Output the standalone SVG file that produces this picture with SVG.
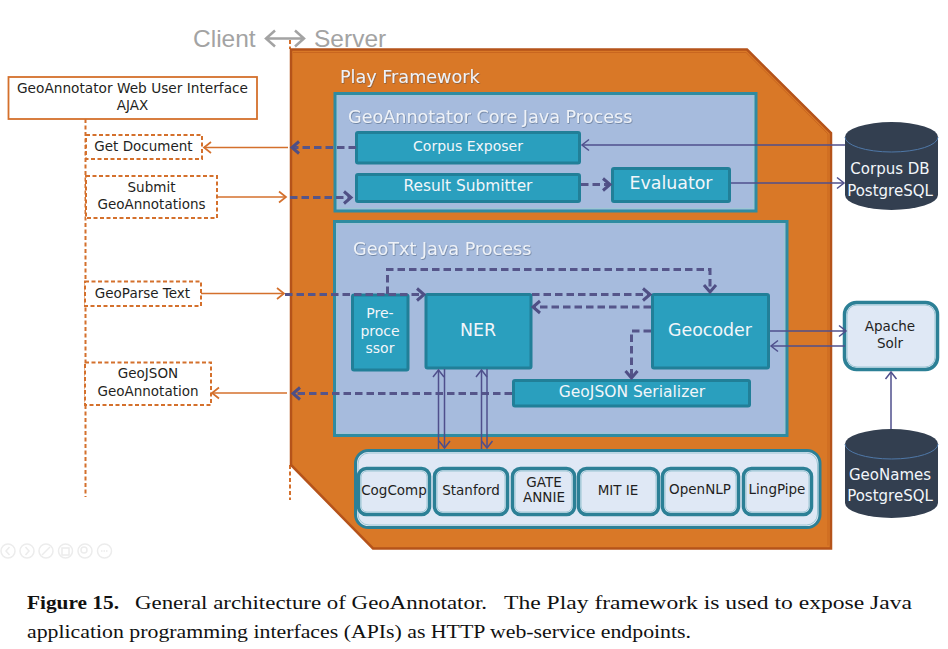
<svg xmlns="http://www.w3.org/2000/svg" width="948" height="649" viewBox="0 0 948 649">
<style>
text{font-family:"DejaVu Sans","Liberation Sans",sans-serif;text-anchor:middle}
.dk{fill:#1f1f22;font-size:13.5px}
.wh{fill:#f2f6fa}
.ttl{fill:#eef2f8;font-size:17.600px;text-anchor:start;filter:url(#sh)}
.panel{fill:#a6bbdd;stroke:#2f8ba0;stroke-width:3}
.teal{fill:#2a9fbe;stroke:#217f98;stroke-width:3}
.dash{fill:#fff;stroke:#d4702c;stroke-width:2;stroke-dasharray:4 2.5}
.lib{fill:#dfe8f5;stroke:#2c8096;stroke-width:3.500}
.in{fill:none;stroke:#9cc6d4;stroke-width:1}
.db{fill:#333f50}
.or{fill:none;stroke:#d4702c;stroke-width:1.700;marker-end:url(#mo)}
.pt{fill:none;stroke:#4f4f8c;stroke-width:1.500;marker-end:url(#mt)}
.pd{fill:none;stroke:#55558a;stroke-width:3;stroke-dasharray:7.500 4;marker-end:url(#md)}
.life{fill:none;stroke:#d4702c;stroke-width:2;stroke-dasharray:4 2.5}
.cap{font-family:"Liberation Serif",serif;font-size:19.5px;fill:#111;text-anchor:start}
.tb{fill:none;stroke:#ececec;stroke-width:1.5}
</style>
<defs>
<filter id="sh" x="-5%" y="-20%" width="110%" height="140%"><feDropShadow dx="0.6" dy="0.8" stdDeviation="0.5" flood-color="#33445f" flood-opacity="0.55"/></filter>
<marker id="mo" markerUnits="userSpaceOnUse" markerWidth="12" markerHeight="14" refX="9" refY="7" orient="auto"><path d="M2 1.5L9 7L2 12.5" fill="none" stroke="#d4702c" stroke-width="1.7"/></marker>
<marker id="mt" markerUnits="userSpaceOnUse" markerWidth="12" markerHeight="14" refX="9" refY="7" orient="auto"><path d="M2 1.5L9 7L2 12.5" fill="none" stroke="#4f4f8c" stroke-width="1.5"/></marker>
<marker id="md" markerUnits="userSpaceOnUse" markerWidth="12" markerHeight="16" refX="9" refY="8" orient="auto"><path d="M2 2L9 8L2 14" fill="none" stroke="#4f4f85" stroke-width="3"/></marker>
</defs>
<rect width="948" height="649" fill="#fff"/>

<g id="title">
<text x="193" y="47" style="font-family:'Liberation Sans',sans-serif;font-size:24.5px;text-anchor:start;fill:#a3a3a3">Client</text>
<text x="314" y="47" style="font-family:'Liberation Sans',sans-serif;font-size:24.5px;text-anchor:start;fill:#a3a3a3">Server</text>
<path d="M275 30.500L266 38.500L275 46.500M266 38.500H304M295 30.500L304 38.500L295 46.500" fill="none" stroke="#a3a3a3" stroke-width="2.500"/>
</g>

<g id="lifelines">
<path class="life" d="M85.500 119V497"/>
<path class="life" d="M290 40V49M290 465V500"/>
</g>

<g id="play-framework">
<path d="M291 49.500H747L831 133V548.500H373L291 465Z" fill="#d97827" stroke="#b5531a" stroke-width="2.500"/>
<path d="M293 52.500H746L828 134V545.500" fill="none" stroke="#c9661f" stroke-width="1"/>
<text class="ttl" x="340" y="83">Play Framework</text>
</g>

<g id="web-ui">
<rect x="8.500" y="77" width="248.500" height="42" fill="#fff" stroke="#d4702c" stroke-width="1.800"/>
<text class="dk" x="132.500" y="93" style="font-size:13.700px">GeoAnnotator Web User Interface</text>
<text class="dk" x="132.500" y="110">AJAX</text>
</g>
<g id="get-document">
<rect class="dash" x="86" y="135" width="116" height="24"/>
<text class="dk" x="143.500" y="151">Get Document</text>
</g>
<g id="submit-geoannotations">
<rect class="dash" x="86" y="176" width="131" height="42"/>
<text class="dk" x="151.500" y="192">Submit</text>
<text class="dk" x="151.500" y="209">GeoAnnotations</text>
</g>
<g id="geoparse-text">
<rect class="dash" x="85" y="281.500" width="116" height="24.500"/>
<text class="dk" x="142.500" y="297.500">GeoParse Text</text>
</g>
<g id="geojson-geoannotation">
<rect class="dash" x="85" y="362.500" width="126" height="42.500"/>
<text class="dk" x="148" y="378">GeoJSON</text>
<text class="dk" x="148" y="395.500">GeoAnnotation</text>
</g>

<g id="core-process">
<rect class="panel" x="335" y="93.500" width="421" height="117.500"/>
<rect class="in" x="337.500" y="96" width="416" height="112.500"/>
<text class="ttl" x="348" y="123">GeoAnnotator Core Java Process</text>
</g>
<g id="geotxt-process">
<rect class="panel" x="334.500" y="221.500" width="452.500" height="214"/>
<rect class="in" x="337" y="224" width="447.500" height="209"/>
<text class="ttl" x="353" y="255">GeoTxt Java Process</text>
</g>
<g id="corpus-exposer">
<rect class="teal" x="356.500" y="132.500" width="223" height="30.500" rx="1.500"/>
<text class="wh" x="468" y="151" font-size="14">Corpus Exposer</text>
</g>
<g id="result-submitter">
<rect class="teal" x="356.500" y="174.500" width="223" height="27" rx="1.500"/>
<text class="wh" x="468" y="191" font-size="15.400">Result Submitter</text>
</g>
<g id="evaluator">
<rect class="teal" x="612.500" y="168.500" width="117" height="33" rx="1.500"/>
<text class="wh" x="671" y="188.500" font-size="17.400">Evaluator</text>
</g>
<g id="preprocessor">
<rect class="teal" x="352.500" y="295" width="55.500" height="75" rx="1.500"/>
<text class="wh" x="380" y="318" font-size="14">Pre-</text>
<text class="wh" x="380" y="336" font-size="14">proce</text>
<text class="wh" x="380" y="353" font-size="14">ssor</text>
</g>
<g id="ner">
<rect class="teal" x="426" y="294.500" width="105" height="73.500" rx="1.500"/>
<text class="wh" x="478" y="336" font-size="17.400">NER</text>
</g>
<g id="geocoder">
<rect class="teal" x="652.500" y="294.500" width="116" height="73.500" rx="1.500"/>
<text class="wh" x="710" y="336" font-size="17.400">Geocoder</text>
</g>
<g id="geojson-serializer">
<rect class="teal" x="513.500" y="380.500" width="236" height="25.500" rx="1.500"/>
<text class="wh" x="632" y="397" font-size="15.500">GeoJSON Serializer</text>
</g>

<g id="libraries">
<rect x="355.500" y="450.500" width="464.500" height="77" rx="13" fill="#dfe8f5" stroke="#2c8096" stroke-width="3"/>
<rect class="in" x="358" y="453" width="459.500" height="72" rx="11"/>
</g>
<g id="cogcomp"><rect class="lib" x="358.500" y="468.500" width="71" height="46" rx="8"/><rect class="in" x="361" y="471" width="66" height="41" rx="6"/><text class="dk" x="394" y="495">CogComp</text></g>
<g id="stanford"><rect class="lib" x="434.500" y="468.500" width="73" height="46" rx="8"/><rect class="in" x="437" y="471" width="68" height="41" rx="6"/><text class="dk" x="471" y="495">Stanford</text></g>
<g id="gate-annie"><rect class="lib" x="512.500" y="468.500" width="62" height="46" rx="8"/><rect class="in" x="515" y="471" width="57" height="41" rx="6"/><text class="dk" x="544" y="487">GATE</text><text class="dk" x="544" y="502">ANNIE</text></g>
<g id="mit-ie"><rect class="lib" x="578.500" y="468.500" width="80" height="46" rx="8"/><rect class="in" x="581" y="471" width="75" height="41" rx="6"/><text class="dk" x="618" y="495">MIT IE</text></g>
<g id="opennlp"><rect class="lib" x="662.500" y="468.500" width="76" height="46" rx="8"/><rect class="in" x="665" y="471" width="71" height="41" rx="6"/><text class="dk" x="700" y="494">OpenNLP</text></g>
<g id="lingpipe"><rect class="lib" x="743.500" y="468.500" width="68" height="46" rx="8"/><rect class="in" x="746" y="471" width="63" height="41" rx="6"/><text class="dk" x="777" y="494">LingPipe</text></g>

<g id="corpus-db">
<path class="db" d="M845 137A46.500 15 0 0 1 938 137V195A46.500 15 0 0 1 845 195Z"/>
<path d="M845 137A46.500 15 0 0 0 938 137" fill="none" stroke="#4f78a8" stroke-width="1"/>
<text class="wh" x="890" y="174" font-size="15">Corpus DB</text>
<text class="wh" x="890" y="196" font-size="15">PostgreSQL</text>
</g>
<g id="apache-solr">
<rect class="lib" x="844.500" y="302.500" width="93" height="67" rx="12"/>
<rect class="in" x="847" y="305" width="88" height="62" rx="10"/>
<text class="dk" x="890" y="331">Apache</text>
<text class="dk" x="890" y="348">Solr</text>
</g>
<g id="geonames-db">
<path class="db" d="M845 444A46.500 15 0 0 1 938 444V503A46.500 15 0 0 1 845 503Z"/>
<path d="M845 444A46.500 15 0 0 0 938 444" fill="none" stroke="#4f78a8" stroke-width="1"/>
<text class="wh" x="890" y="480" font-size="15">GeoNames</text>
<text class="wh" x="890" y="501" font-size="15">PostgreSQL</text>
</g>

<g id="connectors">
<path class="or" d="M288 147.500H204"/>
<path class="or" d="M217 197H286"/>
<path class="or" d="M201 293.500H284"/>
<path class="or" d="M287 393H212"/>
<path class="pd" d="M356 147.500H292"/>
<path class="pd" d="M290 197.500H351"/>
<path class="pd" d="M581 184.500H610"/>
<path class="pd" d="M285 294.500H424"/>
<path class="pd" d="M387.500 294V269.500H710V292"/>
<path class="pd" d="M532 294.500H650"/>
<path class="pd" d="M651 307H533"/>
<path class="pd" d="M651 331H631.500V378"/>
<path class="pd" d="M512 393.500H293"/>
<path class="pt" d="M845 145H582"/>
<path class="pt" d="M731 183H844"/>
<path class="pt" d="M770 331H846"/>
<path class="pt" d="M845 346H771"/>
<path class="pt" d="M891 429V372"/>
<path class="pt" d="M438.500 449V370"/>
<path class="pt" d="M444.500 369V448"/>
<path class="pt" d="M481.500 449V370"/>
<path class="pt" d="M487 369V448"/>
</g>

<g id="toolbar">
<circle class="tb" cx="8" cy="551" r="7"/><path class="tb" d="M9.500 547L6 551L9.500 555"/>
<circle class="tb" cx="27" cy="551" r="7"/><path class="tb" d="M25.500 547L29 551L25.500 555"/>
<circle class="tb" cx="46" cy="551" r="7"/><path class="tb" d="M42 555L50 547"/>
<circle class="tb" cx="65.500" cy="551" r="7"/><rect class="tb" x="62" y="548" width="7" height="7"/>
<circle class="tb" cx="85" cy="551" r="7"/><circle class="tb" cx="84" cy="550" r="3"/>
<circle class="tb" cx="104.500" cy="551" r="7"/><path class="tb" d="M101 551H108" stroke-dasharray="1.500 1"/>
</g>

<g id="caption">
<text class="cap" x="27" y="609" font-weight="bold" textLength="92" lengthAdjust="spacingAndGlyphs">Figure 15.</text>
<text class="cap" x="135" y="609" textLength="352" lengthAdjust="spacingAndGlyphs">General architecture of GeoAnnotator.</text>
<text class="cap" x="504" y="609" textLength="408" lengthAdjust="spacingAndGlyphs">The Play framework is used to expose Java</text>
<text class="cap" x="27" y="638" textLength="664" lengthAdjust="spacingAndGlyphs">application programming interfaces (APIs) as HTTP web-service endpoints.</text>
</g>
</svg>
